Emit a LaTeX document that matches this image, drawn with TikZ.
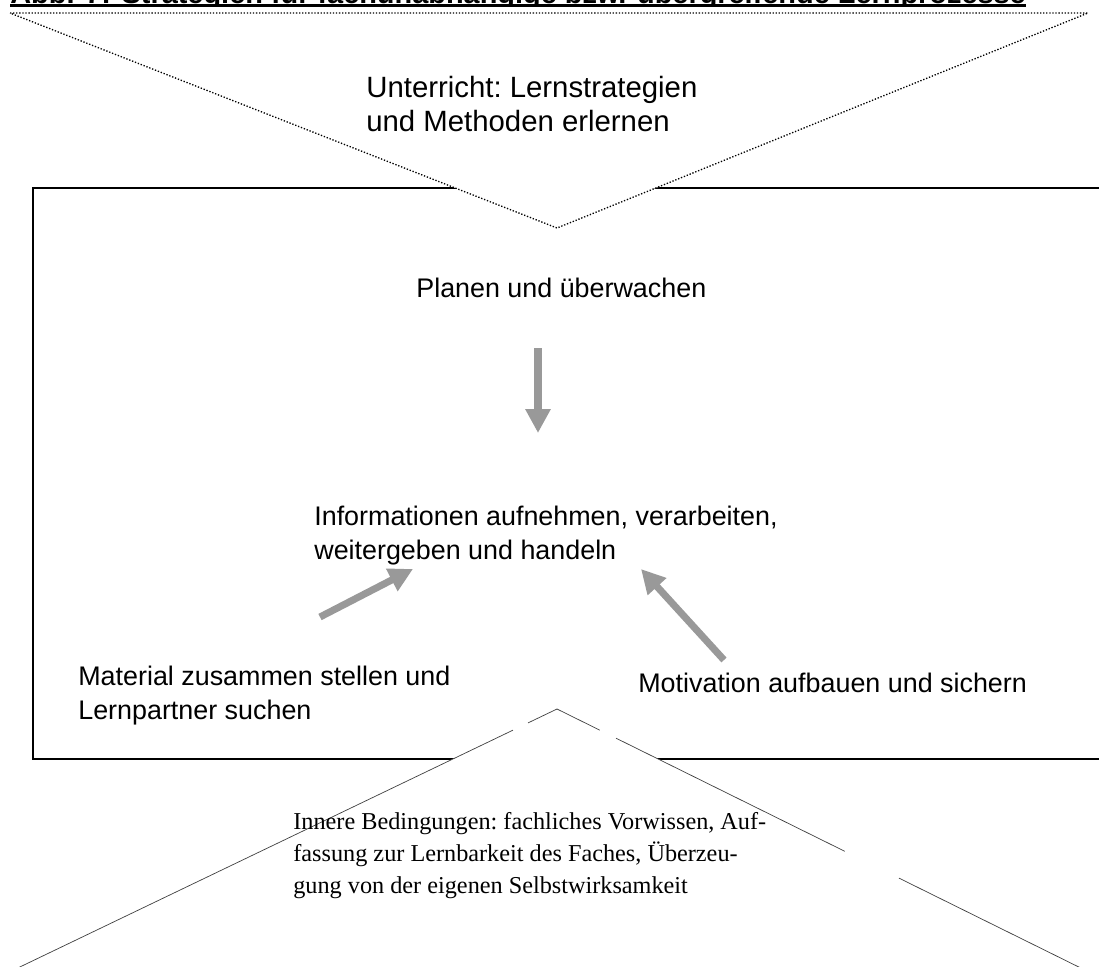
\documentclass[tikz,border=0pt]{standalone}
\usepackage{fontspec}
\setmainfont{Liberation Sans}
\newfontfamily\timesfont{Liberation Serif}
\usetikzlibrary{arrows.meta,calc}
\definecolor{arrowgray}{RGB}{153,153,153}
\tikzset{
  boxtext/.style={anchor=base west, align=left, inner sep=0pt, font=\frenchspacing\fontsize{15.3}{19}\selectfont},
  grayarrow/.style={draw=arrowgray, line width=4pt, -{Triangle[width=13.6pt,length=13.6pt]}},
  thinline/.style={draw=black!75, line width=0.4pt},
}

\begin{document}
\begin{tikzpicture}[x=0.02cm, y=-0.02cm]
\useasboundingbox (0,0) rectangle (1099,967);

\begin{scope}
\clip (0,0) rectangle (1099,4);
\node[anchor=base west, inner sep=0pt, font=\bfseries\fontsize{16.45}{19}\selectfont] (title) at (10,3) {Abb. 7: Strategien für fachunabhängige bzw. übergreifende Lernprozesse};
\end{scope}
\draw[line width=1.6pt] ([yshift=-1.2pt]title.base west) -- ([yshift=-1.2pt]title.base east);

\draw[line width=1.1pt] (33,188) rectangle (1110,759);

\filldraw[fill=white, draw=black, line width=0.75pt, dash pattern=on 0.75pt off 1pt] (10,13) -- (1088,13) -- (557,228) -- cycle;

\coordinate (apex) at (557,709);
\coordinate (lend) at (-1,977);
\coordinate (rend) at (1099,977);
\fill[white] (apex) -- (lend) -- (rend) -- cycle;
\draw[thinline] (apex) -- ($(apex)!0.052!(lend)$) ($(apex)!0.079!(lend)$) -- (lend);
\draw[thinline] (apex) -- ($(apex)!0.079!(rend)$) ($(apex)!0.109!(rend)$) -- ($(apex)!0.531!(rend)$) ($(apex)!0.631!(rend)$) -- (rend);

\node[boxtext, font=\frenchspacing\fontsize{16.7}{19.3}\selectfont] (unterricht) at (366,131) {Unterricht: Lernstrategien\\und Methoden erlernen};
\node[boxtext] (planen) at (416,297) {Planen und überwachen};
\node[boxtext] (info) at (314,559) {Informationen aufnehmen, verarbeiten,\\weitergeben und handeln};
\node[boxtext] (material) at (78,719) {Material zusammen stellen und\\Lernpartner suchen};
\node[boxtext] (motivation) at (638,692) {Motivation aufbauen und sichern};
\node[boxtext, font=\timesfont\frenchspacing\fontsize{13.8}{18.1}\selectfont] (innere) at (293,893) {Innere Bedingungen: fachliches Vorwissen, Auf-\\fassung zur Lernbarkeit des Faches, Überzeu-\\gung von der eigenen Selbstwirksamkeit};

\coordinate (down top) at (538,348);
\coordinate (down tip) at (538,433);
\coordinate (left start) at (320,617);
\coordinate (left tip) at (413,569);
\coordinate (right start) at (724,660);
\coordinate (right tip) at (641,569);
\draw[grayarrow] (down top) -- (down tip);
\draw[grayarrow] (left start) -- (left tip);
\draw[grayarrow] (right start) -- (right tip);
\end{tikzpicture}
\end{document}
